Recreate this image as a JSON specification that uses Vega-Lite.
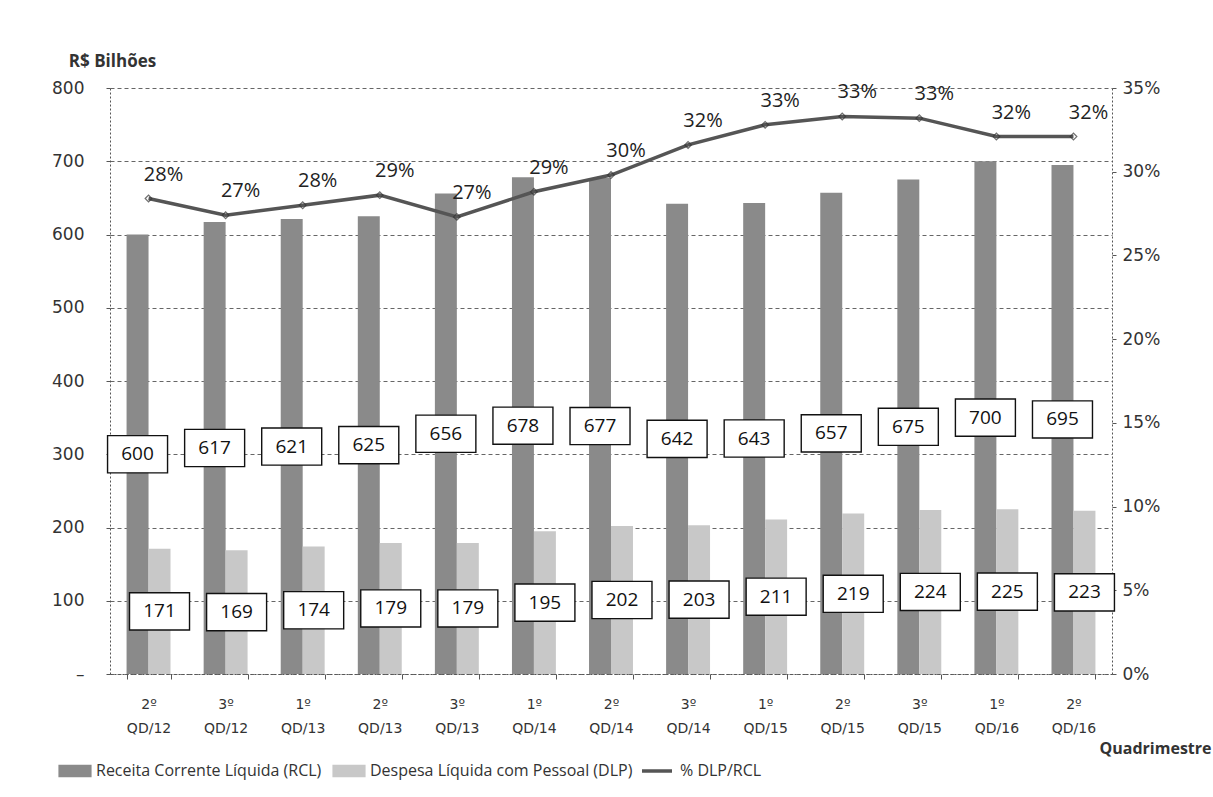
{
  "$schema": "https://vega.github.io/schema/vega-lite/v6.json",
  "width": 1002,
  "height": 586,
  "autosize": "none",
  "padding": {"left": 110, "top": 88, "right": 101, "bottom": 123},
  "background": "white",
  "config": {"view": {"stroke": null}, "font": "Open Sans"},
  "datasets": {
    "barras": [
      {"q": "2º|QD/12", "serie": "Receita Corrente Líquida (RCL)", "valor": 600},
      {"q": "2º|QD/12", "serie": "Despesa Líquida com Pessoal (DLP)", "valor": 171},
      {"q": "3º|QD/12", "serie": "Receita Corrente Líquida (RCL)", "valor": 617},
      {"q": "3º|QD/12", "serie": "Despesa Líquida com Pessoal (DLP)", "valor": 169},
      {"q": "1º|QD/13", "serie": "Receita Corrente Líquida (RCL)", "valor": 621},
      {"q": "1º|QD/13", "serie": "Despesa Líquida com Pessoal (DLP)", "valor": 174},
      {"q": "2º|QD/13", "serie": "Receita Corrente Líquida (RCL)", "valor": 625},
      {"q": "2º|QD/13", "serie": "Despesa Líquida com Pessoal (DLP)", "valor": 179},
      {"q": "3º|QD/13", "serie": "Receita Corrente Líquida (RCL)", "valor": 656},
      {"q": "3º|QD/13", "serie": "Despesa Líquida com Pessoal (DLP)", "valor": 179},
      {"q": "1º|QD/14", "serie": "Receita Corrente Líquida (RCL)", "valor": 678},
      {"q": "1º|QD/14", "serie": "Despesa Líquida com Pessoal (DLP)", "valor": 195},
      {"q": "2º|QD/14", "serie": "Receita Corrente Líquida (RCL)", "valor": 677},
      {"q": "2º|QD/14", "serie": "Despesa Líquida com Pessoal (DLP)", "valor": 202},
      {"q": "3º|QD/14", "serie": "Receita Corrente Líquida (RCL)", "valor": 642},
      {"q": "3º|QD/14", "serie": "Despesa Líquida com Pessoal (DLP)", "valor": 203},
      {"q": "1º|QD/15", "serie": "Receita Corrente Líquida (RCL)", "valor": 643},
      {"q": "1º|QD/15", "serie": "Despesa Líquida com Pessoal (DLP)", "valor": 211},
      {"q": "2º|QD/15", "serie": "Receita Corrente Líquida (RCL)", "valor": 657},
      {"q": "2º|QD/15", "serie": "Despesa Líquida com Pessoal (DLP)", "valor": 219},
      {"q": "3º|QD/15", "serie": "Receita Corrente Líquida (RCL)", "valor": 675},
      {"q": "3º|QD/15", "serie": "Despesa Líquida com Pessoal (DLP)", "valor": 224},
      {"q": "1º|QD/16", "serie": "Receita Corrente Líquida (RCL)", "valor": 700},
      {"q": "1º|QD/16", "serie": "Despesa Líquida com Pessoal (DLP)", "valor": 225},
      {"q": "2º|QD/16", "serie": "Receita Corrente Líquida (RCL)", "valor": 695},
      {"q": "2º|QD/16", "serie": "Despesa Líquida com Pessoal (DLP)", "valor": 223}
    ],
    "linha": [
      {"q": "2º|QD/12", "pct": 0.284},
      {"q": "3º|QD/12", "pct": 0.274},
      {"q": "1º|QD/13", "pct": 0.280},
      {"q": "2º|QD/13", "pct": 0.286},
      {"q": "3º|QD/13", "pct": 0.273},
      {"q": "1º|QD/14", "pct": 0.288},
      {"q": "2º|QD/14", "pct": 0.298},
      {"q": "3º|QD/14", "pct": 0.316},
      {"q": "1º|QD/15", "pct": 0.328},
      {"q": "2º|QD/15", "pct": 0.333},
      {"q": "3º|QD/15", "pct": 0.332},
      {"q": "1º|QD/16", "pct": 0.321},
      {"q": "2º|QD/16", "pct": 0.321}
    ]
  },
  "layer": [
    {
      "data": {"name": "barras"},
      "mark": {"type": "bar"},
      "encoding": {
        "x": {
          "field": "q", "type": "nominal", "sort": null,
          "scale": {"paddingInner": 0.43, "paddingOuter": 0.215},
          "axis": {
            "labelExpr": "isValid(datum.value) ? split(datum.value, '|') : ''",
            "labelAngle": 0,
            "labelFont": "DejaVu Sans", "labelFontSize": 14, "labelColor": "#333",
            "labelLineHeight": 24, "labelPadding": 18,
            "domain": true, "domainColor": "#555", "domainDash": [2, 2], "domainWidth": 1,
            "ticks": true, "tickBand": "extent", "tickSize": 5, "tickColor": "#555",
            "title": "Quadrimestre", "titleFont": "Open Sans", "titleFontSize": 16,
            "titleFontWeight": "bold", "titleColor": "#333",
            "titleAlign": "right", "titleAnchor": null, "titleX": 1101, "titleY": 74, "titleBaseline": "middle"
          }
        },
        "xOffset": {
          "field": "serie", "type": "nominal",
          "sort": ["Receita Corrente Líquida (RCL)", "Despesa Líquida com Pessoal (DLP)"],
          "scale": {"paddingInner": 0, "paddingOuter": 0}
        },
        "y": {
          "field": "valor", "type": "quantitative",
          "scale": {"domain": [0, 800], "nice": false},
          "axis": {
            "orient": "left", "values": [0, 100, 200, 300, 400, 500, 600, 700, 800],
            "labelExpr": "datum.value == 0 ? '–\u00a0\u00a0\u00a0' : datum.label",
            "labelFont": "DejaVu Sans", "labelFontSize": 17, "labelColor": "#333", "labelPadding": 22,
            "grid": true, "gridColor": "#666", "gridDash": [4, 3], "gridWidth": 1,
            "domain": true, "domainColor": "#555", "domainDash": [2, 2],
            "ticks": true, "tickSize": 4, "tickColor": "#555",
            "title": "R$ Bilhões", "titleAngle": 0, "titleAlign": "center", "titleAnchor": null,
            "titleX": 2, "titleY": -27, "titleBaseline": "middle",
            "titleFont": "Open Sans", "titleFontSize": 17, "titleFontWeight": "bold", "titleColor": "#333"
          }
        },
        "fill": {
          "field": "serie", "type": "nominal",
          "sort": ["Receita Corrente Líquida (RCL)", "Despesa Líquida com Pessoal (DLP)"],
          "scale": {"domain": ["Receita Corrente Líquida (RCL)", "Despesa Líquida com Pessoal (DLP)"], "range": ["#8a8a8a", "#c8c8c8"]},
          "legend": {
            "orient": "none", "direction": "horizontal", "legendX": -52, "legendY": 666, "title": null,
            "symbolType": "M-1,-0.38H1V0.38H-1Z", "symbolSize": 1100, "symbolStrokeWidth": 0,
            "labelFont": "Open Sans", "labelFontSize": 16, "labelColor": "#333",
            "labelOffset": 4, "columnPadding": 10, "labelLimit": 400
          }
        }
      }
    },
    {
      "data": {"name": "linha"},
      "encoding": {
        "x": {"field": "q", "type": "nominal", "sort": null},
        "y": {
          "field": "pct", "type": "quantitative",
          "scale": {"domain": [0, 0.35], "nice": false},
          "axis": {
            "orient": "right", "values": [0, 0.05, 0.1, 0.15, 0.2, 0.25, 0.3, 0.35], "format": ".0%",
            "labelFont": "DejaVu Sans", "labelFontSize": 17, "labelColor": "#333", "labelPadding": 6,
            "grid": false, "domain": true, "domainColor": "#555", "domainDash": [2, 2],
            "ticks": true, "tickSize": 4, "tickColor": "#555", "title": null
          }
        }
      },
      "layer": [
        {
          "mark": {"type": "line", "strokeWidth": 3.5},
          "encoding": {
            "stroke": {
              "datum": "% DLP/RCL",
              "scale": {"domain": ["% DLP/RCL"], "range": ["#555555"]},
              "legend": {
                "orient": "none", "legendX": 530, "legendY": 666, "title": null,
                "symbolType": "stroke", "symbolSize": 900, "symbolStrokeWidth": 3.5,
                "labelFont": "Open Sans", "labelFontSize": 16, "labelColor": "#333", "labelOffset": 6
              }
            }
          }
        },
        {
          "mark": {"type": "point", "shape": "diamond", "size": 45, "filled": false, "stroke": "#333", "strokeWidth": 1.2},
          "encoding": {}
        },
        {
          "mark": {"type": "text", "font": "Open Sans", "fontSize": 20, "color": "#222", "dx": 15, "dy": -24, "baseline": "middle"},
          "encoding": {"text": {"field": "pct", "type": "quantitative", "format": ".0%"}}
        }
      ]
    },
    {
      "data": {"name": "barras"},
      "encoding": {
        "x": {"field": "q", "type": "nominal", "sort": null},
        "xOffset": {
          "field": "serie", "type": "nominal",
          "sort": ["Receita Corrente Líquida (RCL)", "Despesa Líquida com Pessoal (DLP)"]
        },
        "y": {"field": "valor", "type": "quantitative", "scale": {"domain": [0, 1600], "nice": false}, "axis": null}
      },
      "layer": [
        {
          "mark": {"type": "point", "shape": "M-1,-0.62H1V0.62H-1Z", "size": 3600, "filled": true, "fill": "white", "stroke": "#111", "strokeWidth": 1.4, "opacity": 1}
        },
        {
          "mark": {"type": "text", "font": "Open Sans", "fontSize": 19, "color": "#111", "baseline": "middle"},
          "encoding": {"text": {"field": "valor", "type": "quantitative"}}
        }
      ]
    }
  ],
  "resolve": {"scale": {"y": "independent"}}
}
